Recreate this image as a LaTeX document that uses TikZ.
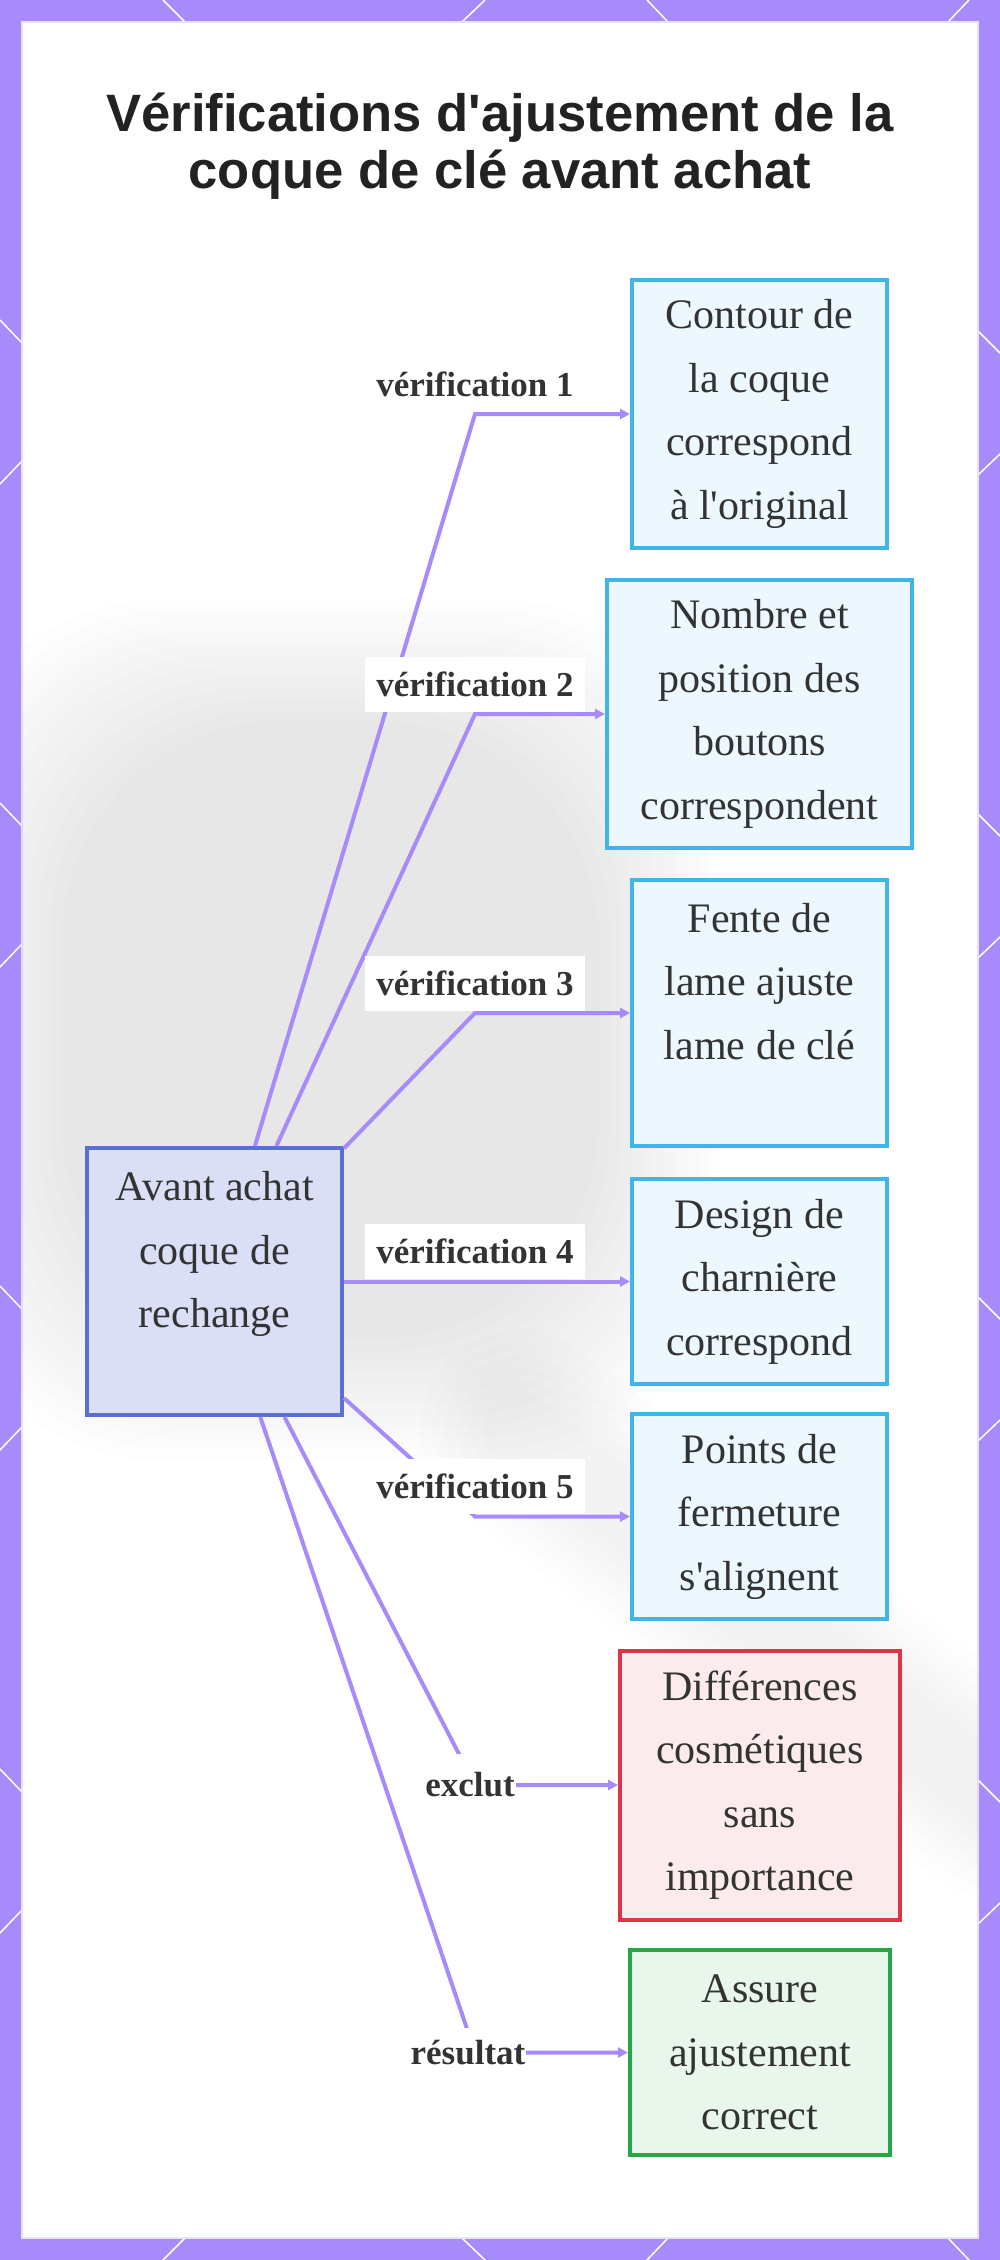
\documentclass[tikz,border=0pt]{standalone}
\definecolor{lavender}{RGB}{167,139,250}
\definecolor{ink}{RGB}{51,51,51}
\definecolor{titleink}{RGB}{34,34,34}
\definecolor{rootblue}{RGB}{91,110,214}
\definecolor{skyline}{RGB}{62,182,234}
\definecolor{alertred}{RGB}{220,53,69}
\definecolor{okgreen}{RGB}{40,167,69}
\usepackage{fontspec}
\setmainfont{Liberation Serif}
\newfontfamily\titlesans{Liberation Sans}
\usepackage{tikz}
\usetikzlibrary{arrows.meta, positioning, calc}
\newcommand{\checkfont}{\fontsize{42}{63.5}\selectfont}
\tikzset{
  rootnode/.style={rectangle, draw=rootblue, fill=rootblue!22, line width=4pt, minimum width=255pt, minimum height=267pt, align=center, text=ink, font=\checkfont},
  checknode/.style={rectangle, draw=#1, fill=#1!10, line width=4pt, minimum width=255pt, minimum height=205pt, align=center, text=ink, font=\checkfont},
  edgelabel/.style={fill=white, text=ink, font=\bfseries\fontsize{35}{40}\selectfont, inner xsep=#1, inner ysep=0pt, minimum height=55pt},
  edgelabel/.default=11pt,
  link/.style={draw=lavender, line width=4pt, -{Triangle[length=10pt, width=10pt]}},
  hexline/.style={draw=white, line width=1.5pt},
}

\begin{document}
\begin{tikzpicture}[x=1pt, y=-1pt]
\useasboundingbox (0,0) rectangle (1000,2260);
% frame and panel
\fill[lavender] (0,0) rectangle (1000,2260);
\foreach \y in {320,803,1286,1769} {\draw[hexline] (0,\y) -- (22,\y+23);}
\foreach \y in {461,944,1427,1910} {\draw[hexline] (22,\y) -- (0,\y+23);}
\foreach \y in {331,814,1297,1780} {\draw[hexline] (978,\y) -- (1000,\y+22);}
\foreach \y in {475,958,1441,1924} {\draw[hexline] (978,\y) -- (1000,\y-21);}
\foreach \x/\d in {163/22,647/21} {\draw[hexline] (\x,0) -- (\x+\d,22); \draw[hexline] (\x+\d,2238) -- (\x,2260);}
\foreach \x/\d in {485/23,969/21} {\draw[hexline] (\x,0) -- (\x-\d,22); \draw[hexline] (\x-\d,2238) -- (\x,2260);}
\fill[white, draw=lavender!25, line width=1.5pt] (22,22) rectangle (978,2238);
\begin{scope}
  \clip (22,22) rectangle (978,2238);
  \foreach \k in {0,...,11}
    \fill[black, opacity=0.008, rounded corners=220pt] (-60+11*\k,600+11*\k) rectangle (720-11*\k,1460-11*\k);
  \foreach \k [evaluate=\k as \w using 200-25*\k] in {0,...,5}
    \draw[black, opacity=0.008, line width=\w pt, line cap=round] (520,1430) -- (1000,1800);
\end{scope}

\node[font=\titlesans\bfseries\fontsize{52.6}{57}\selectfont, text=titleink, align=center] (title) at (500,146)
  {Vérifications d\textquotesingle ajustement de la\\coque de clé avant achat};

\node[rootnode] (root) at (214.5,1281.5) {Avant achat\\coque de\\rechange\\\mbox{}};
\node[checknode=skyline, minimum height=268pt] (contour) at (759.5,414) {Contour de\\la coque\\correspond\\à l\textquotesingle original};
\node[checknode=skyline, minimum width=305pt, minimum height=268pt] (boutons) at (759.5,714) {Nombre et\\position des\\boutons\\correspondent};
\node[checknode=skyline, minimum height=266pt] (lame) at (759.5,1013) {Fente de\\lame ajuste\\lame de clé\\\mbox{}};
\node[checknode=skyline] (charniere) at (759.5,1281.5) {Design de\\charnière\\correspond};
\node[checknode=skyline] (fermeture) at (759.5,1516.5) {Points de\\fermeture\\s\textquotesingle alignent};
\node[checknode=alertred, minimum width=280pt, minimum height=269pt] (cosmetique) at (760,1785) {Différences\\cosmétiques\\sans\\importance};
\node[checknode=okgreen, minimum width=260pt] (ajustement) at (760,2052.5) {Assure\\ajustement\\correct};

\coordinate (spine) at (475,0);
\draw[link] (root) -- (contour.west -| spine) -- (contour.west);
\draw[link] (root) -- (boutons.west -| spine) -- (boutons.west);
\draw[link] (root) -- (lame.west -| spine) -- (lame.west);
\draw[link] (root) -- (charniere.west -| spine) -- (charniere.west);
\draw[link] (root) -- (fermeture.west -| spine) -- (fermeture.west);
\draw[link] (root) -- (cosmetique.west -| spine) -- (cosmetique.west);
\draw[link] (root) -- (ajustement.west -| spine) -- (ajustement.west);

\node[edgelabel, anchor=south, yshift=2pt] (v1) at (contour.west -| spine) {vérification 1};
\node[edgelabel, anchor=south, yshift=2pt] (v2) at (boutons.west -| spine) {vérification 2};
\node[edgelabel, anchor=south, yshift=2pt] (v3) at (lame.west -| spine) {vérification 3};
\node[edgelabel, anchor=south, yshift=2pt] (v4) at (charniere.west -| spine) {vérification 4};
\node[edgelabel, anchor=south, yshift=2pt] (v5) at (fermeture.west -| spine) {vérification 5};
\node[edgelabel=1pt, minimum height=62pt, xshift=-5pt] (exclut) at (cosmetique.west -| spine) {exclut};
\node[edgelabel=1pt, minimum height=50pt, xshift=-7pt] (resultat) at (ajustement.west -| spine) {résultat};
\end{tikzpicture}
\end{document}
